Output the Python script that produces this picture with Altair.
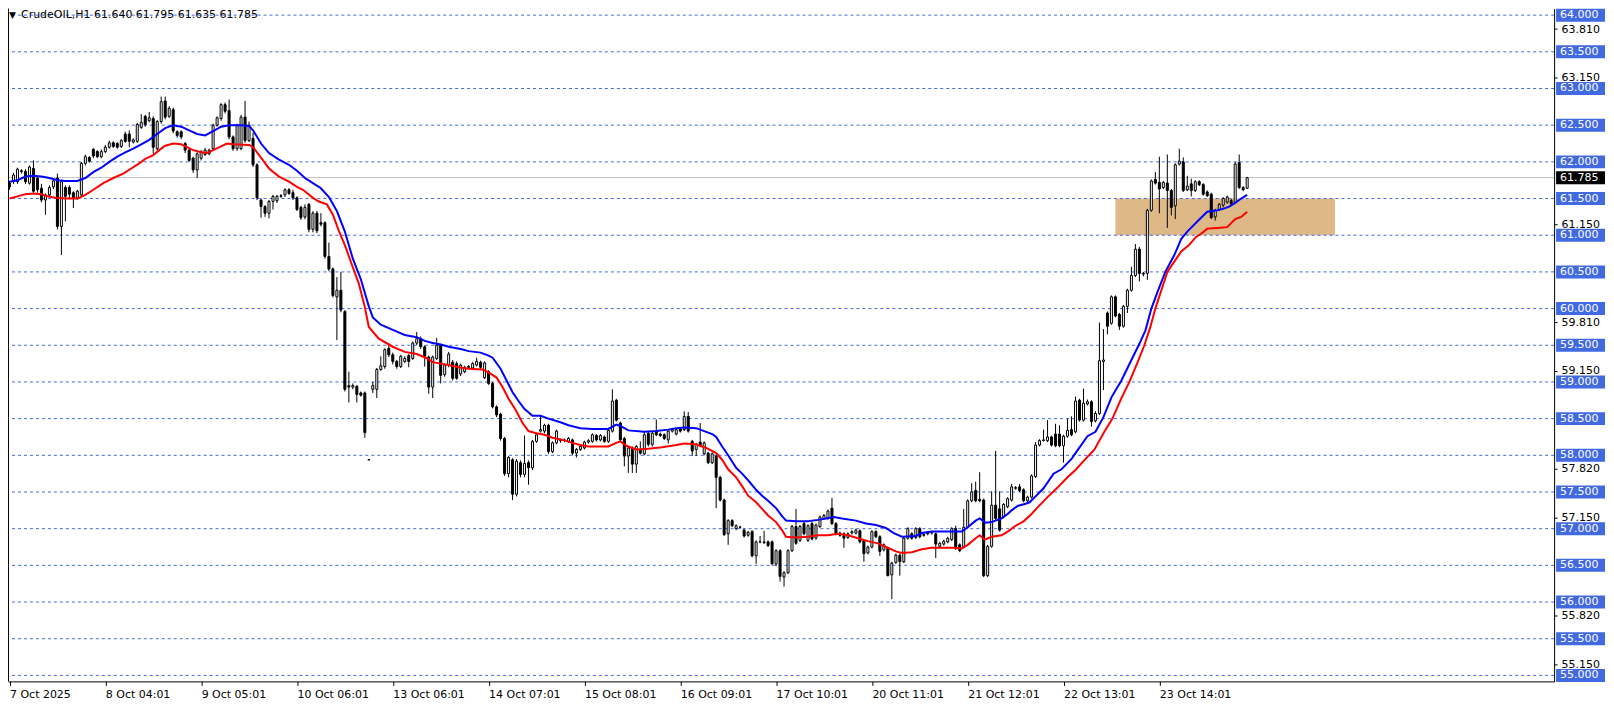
import altair as alt
import pandas as pd

# ---------------- data (H1 candles, bar index 0..310) ----------------
opens = [61.71, 61.73, 61.73, 61.88, 61.87, 61.71, 61.91, 61.78, 61.64, 61.48,
         61.55, 61.66, 61.78, 61.12, 61.65, 61.65, 61.58, 61.51, 61.55, 61.98,
         62.06, 62.17, 62.14, 62.07, 62.14, 62.20, 62.26, 62.25, 62.21, 62.38,
         62.38, 62.27, 62.28, 62.47, 62.62, 62.56, 62.59, 62.18, 62.55, 62.83,
         62.62, 62.71, 62.41, 62.41, 62.25, 62.16, 62.05, 61.89, 62.05, 62.10,
         62.11, 62.18, 62.50, 62.59, 62.78, 62.70, 62.34, 62.18, 62.18, 62.61,
         62.29, 62.32, 61.96, 61.48, 61.39, 61.30, 61.46, 61.47, 61.53, 61.55,
         61.62, 61.58, 61.51, 61.38, 61.25, 61.42, 61.08, 61.30, 61.17, 61.17,
         60.71, 60.54, 60.16, 60.25, 59.96, 58.95, 58.93, 58.94, 58.85, 58.85,
         57.94, 58.90, 58.90, 59.17, 59.21, 59.46, 59.37, 59.28, 59.21, 59.28,
         59.36, 59.32, 59.53, 59.59, 59.48, 59.34, 58.93, 59.32, 59.50, 59.10,
         59.23, 59.27, 59.25, 59.11, 59.14, 59.21, 59.19, 59.23, 59.27, 59.06,
         59.14, 58.98, 58.66, 58.56, 58.23, 57.75, 57.94, 57.47, 57.90, 57.74,
         57.90, 57.83, 58.19, 58.33, 58.33, 58.41, 58.05, 58.17, 58.20, 58.21,
         58.19, 58.21, 58.03, 58.08, 58.10, 58.18, 58.19, 58.27, 58.21, 58.25,
         58.19, 58.33, 58.75, 58.44, 58.23, 57.99, 58.10, 57.88, 58.08, 58.02,
         58.30, 58.15, 58.33, 58.29, 58.28, 58.21, 58.33, 58.29, 58.36, 58.35,
         58.53, 58.19, 58.08, 58.18, 58.02, 58.03, 57.90, 57.99, 57.70, 57.39,
         56.93, 57.11, 57.00, 57.02, 56.98, 56.91, 56.96, 56.63, 56.82, 56.81,
         56.82, 56.82, 56.52, 56.70, 56.34, 56.40, 56.70, 57.03, 56.84, 57.07,
         56.84, 57.07, 56.87, 57.03, 57.14, 57.14, 57.28, 57.07, 56.94, 56.93,
         56.88, 56.94, 56.94, 56.97, 56.84, 56.67, 56.75, 56.96, 56.89, 56.71,
         56.73, 56.37, 56.54, 56.64, 56.55, 56.87, 56.93, 56.88, 57.00, 56.92,
         56.93, 56.94, 56.93, 56.76, 56.79, 56.82, 56.85, 57.00, 56.78, 56.75,
         57.02, 57.38, 57.52, 57.40, 57.39, 56.36, 56.76, 57.32, 57.27, 57.16,
         57.30, 57.39, 57.55, 57.57, 57.53, 57.38, 57.43, 57.71, 58.14, 58.20,
         58.20, 58.25, 58.29, 58.29, 58.13, 58.26, 58.35, 58.32, 58.75, 58.48,
         58.70, 58.73, 58.47, 58.57, 59.28, 59.94, 59.80, 60.16, 59.92, 59.76,
         60.03, 60.25, 60.45, 60.81, 60.48, 60.48, 61.34, 61.76, 61.72, 61.65,
         61.71, 61.61, 61.40, 61.97, 62.00, 61.62, 61.70, 61.61, 61.73, 61.69,
         61.59, 61.56, 61.25, 61.35, 61.41, 61.45, 61.47, 61.45, 61.99, 61.65,
         61.640]
highs = [61.74, 61.85, 61.92, 61.90, 61.90, 61.95, 62.02, 61.80, 61.70, 61.57,
         61.68, 61.77, 61.84, 61.76, 61.68, 61.68, 61.60, 61.62, 62.00, 62.10,
         62.08, 62.19, 62.16, 62.17, 62.23, 62.29, 62.28, 62.27, 62.31, 62.41,
         62.43, 62.32, 62.53, 62.65, 62.64, 62.68, 62.62, 62.57, 62.89, 62.89,
         62.76, 62.74, 62.43, 62.43, 62.27, 62.18, 62.07, 62.13, 62.16, 62.19,
         62.18, 62.52, 62.62, 62.80, 62.81, 62.85, 62.36, 62.52, 62.64, 62.83,
         62.55, 62.40, 61.98, 61.50, 61.41, 61.48, 61.55, 61.55, 61.56, 61.64,
         61.64, 61.62, 61.53, 61.40, 61.42, 61.44, 61.33, 61.33, 61.30, 61.19,
         60.90, 60.56, 60.43, 60.50, 59.98, 59.14, 58.98, 58.96, 58.87, 58.87,
         57.95, 59.00, 59.19, 59.35, 59.46, 59.53, 59.40, 59.30, 59.37, 59.35,
         59.38, 59.55, 59.68, 59.62, 59.50, 59.36, 59.36, 59.60, 59.52, 59.25,
         59.41, 59.30, 59.28, 59.25, 59.22, 59.23, 59.27, 59.33, 59.29, 59.28,
         59.16, 59.00, 58.68, 58.58, 58.25, 57.99, 57.96, 57.95, 57.93, 58.27,
         57.93, 58.21, 58.30, 58.53, 58.43, 58.43, 58.19, 58.35, 58.23, 58.23,
         58.25, 58.23, 58.10, 58.14, 58.20, 58.22, 58.30, 58.29, 58.29, 58.27,
         58.36, 58.90, 58.77, 58.46, 58.25, 58.12, 58.12, 58.14, 58.19, 58.33,
         58.32, 58.32, 58.49, 58.31, 58.30, 58.35, 58.37, 58.37, 58.38, 58.60,
         58.59, 58.21, 58.17, 58.44, 58.19, 58.05, 58.04, 58.01, 57.72, 57.41,
         57.13, 57.13, 57.06, 57.04, 57.00, 56.97, 56.98, 56.84, 56.90, 56.97,
         56.84, 56.84, 56.72, 56.72, 56.42, 56.72, 57.05, 57.27, 57.05, 57.09,
         57.06, 57.09, 57.07, 57.18, 57.20, 57.26, 57.42, 57.09, 56.96, 56.95,
         56.95, 56.98, 57.00, 56.99, 56.86, 56.77, 56.98, 56.98, 56.91, 56.80,
         56.75, 56.55, 56.66, 56.66, 56.89, 57.02, 56.95, 57.02, 57.02, 56.94,
         56.96, 56.97, 56.95, 56.82, 56.85, 56.89, 57.02, 57.04, 56.80, 57.27,
         57.40, 57.62, 57.64, 57.77, 57.41, 56.78, 57.51, 58.06, 57.51, 57.35,
         57.43, 57.61, 57.58, 57.61, 57.55, 57.45, 57.74, 58.18, 58.22, 58.35,
         58.48, 58.27, 58.43, 58.41, 58.28, 58.50, 58.53, 58.80, 58.77, 58.91,
         58.76, 58.75, 58.60, 59.81, 59.72, 59.96, 60.18, 60.18, 59.94, 60.05,
         60.27, 60.57, 60.88, 60.84, 60.50, 61.36, 61.76, 61.86, 62.07, 61.74,
         62.10, 61.63, 61.98, 62.18, 62.06, 61.81, 61.77, 61.75, 61.75, 61.71,
         61.61, 61.58, 61.36, 61.44, 61.52, 61.54, 61.50, 62.00, 62.10, 61.67,
         61.795]
lows = [61.62, 61.70, 61.70, 61.84, 61.70, 61.69, 61.58, 61.58, 61.45, 61.28,
        61.52, 61.63, 61.08, 60.73, 61.19, 61.50, 61.37, 61.48, 61.53, 61.95,
        61.99, 62.05, 62.05, 62.05, 62.12, 62.18, 62.19, 62.18, 62.19, 62.26,
        62.20, 62.25, 62.26, 62.45, 62.48, 62.54, 62.11, 62.15, 62.52, 62.58,
        62.60, 62.39, 62.33, 62.31, 62.12, 62.00, 61.85, 61.78, 62.02, 62.08,
        62.09, 62.16, 62.48, 62.56, 62.66, 62.31, 62.15, 62.15, 62.16, 62.26,
        62.27, 61.93, 61.48, 61.24, 61.25, 61.23, 61.35, 61.44, 61.51, 61.52,
        61.55, 61.48, 61.33, 61.21, 61.22, 61.04, 61.04, 61.03, 61.12, 60.68,
        60.51, 60.15, 59.57, 59.95, 58.87, 58.72, 58.90, 58.72, 58.80, 58.24,
        57.93, 58.85, 58.78, 59.15, 59.18, 59.34, 59.24, 59.18, 59.19, 59.26,
        59.20, 59.30, 59.50, 59.45, 59.21, 58.84, 58.78, 59.30, 58.98, 59.07,
        59.20, 59.02, 59.03, 59.08, 59.12, 59.18, 59.17, 59.21, 59.18, 59.04,
        58.96, 58.64, 58.52, 58.20, 57.72, 57.70, 57.39, 57.44, 57.70, 57.70,
        57.60, 57.80, 58.17, 58.31, 58.30, 58.02, 58.03, 58.15, 58.17, 58.18,
        58.17, 58.00, 57.97, 58.06, 58.08, 58.16, 58.17, 58.19, 58.19, 58.17,
        58.17, 58.31, 58.46, 58.19, 57.85, 57.76, 57.76, 57.76, 58.01, 58.00,
        58.12, 58.12, 58.26, 58.25, 58.21, 58.16, 58.31, 58.27, 58.31, 58.33,
        58.31, 57.99, 57.99, 58.11, 58.00, 57.88, 57.88, 57.28, 57.37, 56.90,
        56.78, 57.02, 56.98, 57.00, 56.88, 56.89, 56.61, 56.52, 56.80, 56.79,
        56.75, 56.50, 56.49, 56.28, 56.21, 56.38, 56.68, 56.78, 56.82, 56.91,
        56.82, 56.84, 56.85, 57.01, 57.12, 57.12, 57.05, 56.91, 56.89, 56.74,
        56.86, 56.92, 56.92, 56.80, 56.55, 56.65, 56.73, 56.87, 56.63, 56.69,
        56.35, 56.04, 56.52, 56.36, 56.53, 56.85, 56.85, 56.86, 56.87, 56.89,
        56.91, 56.92, 56.60, 56.74, 56.77, 56.80, 56.83, 56.71, 56.68, 56.73,
        57.00, 57.36, 57.36, 57.36, 56.34, 56.34, 56.74, 57.12, 56.96, 57.14,
        57.28, 57.37, 57.53, 57.50, 57.36, 57.36, 57.41, 57.69, 58.12, 58.19,
        58.18, 58.12, 58.11, 58.11, 57.90, 58.24, 58.26, 58.30, 58.46, 58.46,
        58.68, 58.39, 58.45, 58.55, 58.89, 59.65, 59.78, 59.88, 59.71, 59.74,
        59.94, 60.23, 60.43, 60.37, 60.44, 60.39, 61.32, 61.69, 61.30, 61.63,
        61.10, 61.27, 61.22, 61.95, 61.59, 61.60, 61.53, 61.59, 61.67, 61.54,
        61.52, 61.22, 61.20, 61.33, 61.38, 61.43, 61.41, 61.43, 61.63, 61.60,
        61.635]
closes = [61.66, 61.82, 61.90, 61.87, 61.73, 61.93, 61.60, 61.62, 61.48, 61.55,
          61.65, 61.74, 61.12, 61.73, 61.53, 61.56, 61.51, 61.60, 61.98, 62.07,
          62.01, 62.08, 62.07, 62.14, 62.20, 62.26, 62.21, 62.20, 62.29, 62.28,
          62.28, 62.30, 62.51, 62.54, 62.51, 62.60, 62.20, 62.55, 62.82, 62.61,
          62.73, 62.42, 62.36, 62.34, 62.16, 62.02, 61.89, 62.11, 62.14, 62.16,
          62.16, 62.50, 62.60, 62.78, 62.69, 62.34, 62.18, 62.50, 62.61, 62.29,
          62.50, 61.96, 61.51, 61.39, 61.30, 61.46, 61.53, 61.53, 61.54, 61.62,
          61.57, 61.51, 61.35, 61.24, 61.38, 61.08, 61.30, 61.06, 61.15, 60.71,
          60.54, 60.18, 60.25, 59.98, 58.90, 58.93, 58.95, 58.83, 58.82, 58.31,
          57.94, 58.95, 59.17, 59.22, 59.44, 59.37, 59.28, 59.21, 59.35, 59.32,
          59.28, 59.53, 59.59, 59.48, 59.35, 58.93, 59.34, 59.50, 59.09, 59.23,
          59.38, 59.05, 59.05, 59.23, 59.20, 59.20, 59.25, 59.28, 59.20, 59.26,
          58.98, 58.66, 58.55, 58.23, 57.75, 57.97, 57.47, 57.92, 57.74, 57.89,
          57.83, 58.19, 58.28, 58.35, 58.41, 58.05, 58.17, 58.33, 58.21, 58.20,
          58.23, 58.03, 58.08, 58.12, 58.18, 58.20, 58.28, 58.21, 58.27, 58.19,
          58.34, 58.74, 58.48, 58.21, 57.99, 58.10, 57.88, 58.12, 58.03, 58.28,
          58.15, 58.30, 58.28, 58.27, 58.23, 58.33, 58.35, 58.35, 58.33, 58.53,
          58.33, 58.06, 58.15, 58.13, 58.17, 57.90, 58.02, 57.70, 57.39, 56.92,
          57.11, 57.04, 57.04, 57.02, 56.90, 56.95, 56.63, 56.82, 56.82, 56.82,
          56.77, 56.52, 56.70, 56.35, 56.40, 56.70, 57.03, 56.80, 57.03, 56.93,
          57.04, 56.86, 57.05, 57.16, 57.18, 57.24, 57.07, 56.93, 56.91, 56.87,
          56.93, 56.96, 56.98, 56.82, 56.66, 56.75, 56.96, 56.89, 56.69, 56.78,
          56.36, 56.53, 56.64, 56.55, 56.87, 57.00, 56.87, 57.00, 56.89, 56.91,
          56.94, 56.95, 56.79, 56.80, 56.83, 56.87, 57.00, 56.73, 56.70, 57.02,
          57.38, 57.50, 57.38, 57.38, 56.36, 56.76, 57.32, 57.14, 56.98, 57.33,
          57.41, 57.57, 57.56, 57.52, 57.38, 57.43, 57.72, 58.14, 58.20, 58.21,
          58.25, 58.14, 58.13, 58.13, 58.26, 58.34, 58.28, 58.74, 58.48, 58.71,
          58.73, 58.46, 58.57, 59.29, 59.30, 59.76, 60.16, 59.90, 59.76, 60.03,
          60.25, 60.45, 60.81, 60.48, 60.47, 61.34, 61.74, 61.71, 61.63, 61.72,
          61.61, 61.38, 61.96, 62.01, 61.61, 61.67, 61.61, 61.73, 61.69, 61.56,
          61.54, 61.24, 61.34, 61.42, 61.50, 61.52, 61.43, 61.97, 61.65, 61.62,
          61.785]

# moving-average lines (blue upper, red lower): (bar index, price)
blue_ma_points = [
    (0, 61.73), (2, 61.75), (4, 61.80), (6, 61.81), (8, 61.80), (10, 61.78), (12, 61.75),
    (14, 61.74), (17, 61.74), (19, 61.78), (21, 61.86), (23, 61.92), (25, 62.00), (27, 62.07),
    (29, 62.13), (31, 62.18), (33, 62.24), (35, 62.30), (37, 62.38), (39, 62.46), (41, 62.50),
    (43, 62.48), (45, 62.43), (47, 62.38), (49, 62.36), (51, 62.42), (53, 62.48), (55, 62.50),
    (58, 62.50), (60, 62.49), (61, 62.43), (63, 62.25), (65, 62.12), (67.5, 62.03), (70, 61.96),
    (72, 61.88), (74, 61.78), (76, 61.71), (78, 61.64), (80, 61.52), (82, 61.33), (84, 61.05),
    (86, 60.68), (88, 60.40), (90, 60.03), (91, 59.88), (93, 59.78), (96, 59.71), (99, 59.64),
    (102, 59.61), (104, 59.56), (106, 59.53), (108, 59.51), (110, 59.48), (113, 59.45),
    (115, 59.42), (118, 59.40), (120, 59.36), (121, 59.33), (123, 59.18), (124.5, 59.02),
    (126, 58.86), (127.5, 58.74), (129, 58.63), (131, 58.54), (133, 58.54), (135, 58.50),
    (138, 58.45), (140, 58.41), (143, 58.37), (146, 58.36), (150, 58.36), (152, 58.42),
    (153, 58.40), (155, 58.34), (159, 58.32), (162, 58.33), (165, 58.35), (167, 58.37),
    (169, 58.38), (172, 58.37), (174, 58.33), (176, 58.29), (177, 58.25), (178.5, 58.12),
    (180, 58.00), (182, 57.83), (183.5, 57.75), (185, 57.66), (187, 57.53), (188.5, 57.45),
    (190, 57.38), (192, 57.28), (193.5, 57.17), (194.5, 57.11), (197, 57.10), (200, 57.10),
    (202.5, 57.12), (204.5, 57.14), (206.5, 57.16), (208.5, 57.14), (212, 57.11), (214.5, 57.07),
    (217, 57.05), (219.5, 57.01), (221.5, 56.94), (223.5, 56.89), (227, 56.90), (228.5, 56.94),
    (231, 56.96), (236, 56.96), (238.5, 56.96), (240, 57.02), (242, 57.11), (243, 57.14),
    (244.5, 57.08), (246, 57.09), (248.5, 57.14), (250, 57.20), (251, 57.25), (252.5, 57.31),
    (254.5, 57.34), (255.5, 57.36), (257, 57.44), (259, 57.55), (261.5, 57.75), (263.5, 57.81),
    (266, 57.95), (267, 58.03), (270, 58.26), (272, 58.32), (274, 58.52), (276, 58.79),
    (278.5, 59.02), (281, 59.30), (283, 59.52), (284.5, 59.70), (286, 60.00), (287.5, 60.22),
    (289.5, 60.50), (291.75, 60.73), (293.5, 60.95), (295, 61.05), (297.75, 61.20),
    (300, 61.32), (302.5, 61.34), (304, 61.36), (305.5, 61.39), (307, 61.44), (308.5, 61.50),
    (310, 61.55),
]
red_ma_points = [
    (0, 61.50), (2, 61.53), (4, 61.56), (6, 61.57), (8, 61.56), (9.5, 61.53), (11.5, 61.51),
    (14, 61.50), (17, 61.50), (19, 61.55), (21, 61.62), (23.5, 61.71), (26, 61.78), (28.5, 61.84),
    (30.5, 61.91), (32.5, 61.98), (34, 62.04), (36, 62.09), (37.5, 62.16), (39, 62.22), (41, 62.25),
    (43, 62.24), (44.5, 62.20), (46, 62.16), (48, 62.13), (49.5, 62.12), (51, 62.16), (53, 62.21),
    (54.5, 62.25), (56, 62.24), (60, 62.23), (61, 62.20), (63.5, 62.02), (65, 61.91), (67.5, 61.80),
    (70, 61.73), (72, 61.66), (73.5, 61.62), (76, 61.51), (77.5, 61.46), (79.5, 61.42),
    (81, 61.28), (82.5, 61.06), (84.25, 60.83), (86, 60.56), (87.5, 60.34), (89, 60.02),
    (90, 59.75), (92.5, 59.59), (96, 59.48), (99, 59.41), (102, 59.38), (104.25, 59.33),
    (106, 59.27), (108, 59.25), (110, 59.23), (112.5, 59.20), (115, 59.18), (118.5, 59.17),
    (120, 59.13), (122, 59.06), (123.5, 58.93), (125, 58.77), (126.75, 58.62), (128.5, 58.44),
    (130, 58.33), (132, 58.30), (134, 58.28), (136, 58.24), (138.5, 58.21), (141, 58.17),
    (143, 58.14), (145, 58.12), (150, 58.12), (152, 58.17), (153, 58.19), (154.5, 58.13),
    (157, 58.08), (160, 58.09), (163.5, 58.11), (167, 58.14), (169, 58.16), (172, 58.15),
    (174.5, 58.10), (177, 58.03), (178.5, 57.94), (180, 57.81), (182, 57.70), (183.5, 57.58),
    (185, 57.45), (187, 57.36), (188.5, 57.27), (190, 57.18), (192, 57.09), (193.5, 56.98),
    (194.5, 56.89), (197, 56.88), (200, 56.89), (202.5, 56.91), (205, 56.91), (207.5, 56.93),
    (210, 56.91), (212.5, 56.87), (215, 56.83), (217.5, 56.80), (220, 56.74), (222, 56.69),
    (223.5, 56.67), (226, 56.68), (228.5, 56.72), (231, 56.74), (236.5, 56.74), (238.5, 56.73),
    (240, 56.78), (242, 56.87), (243, 56.91), (244.25, 56.85), (246, 56.89), (248.5, 56.91),
    (250, 56.96), (252, 57.04), (254, 57.10), (256, 57.20), (257.5, 57.29), (260, 57.43),
    (262.5, 57.56), (265, 57.70), (267, 57.80), (269, 57.92), (271.75, 58.08), (274, 58.30),
    (276.25, 58.50), (278.5, 58.78), (280.5, 59.00), (282.5, 59.26), (284.25, 59.50),
    (285.75, 59.75), (287, 60.00), (288.5, 60.25), (290, 60.50), (291.75, 60.64),
    (293.5, 60.78), (295.5, 60.87), (297.25, 60.98), (298.5, 61.02), (300, 61.09),
    (302.5, 61.10), (305, 61.11), (307, 61.22), (308.5, 61.25), (310, 61.32),
]

x_label_bars = [0, 24, 48, 72, 96, 120, 144, 168, 192, 216, 240, 264, 288]
x_labels = ["7 Oct 2025", "8 Oct 04:01", "9 Oct 05:01", "10 Oct 06:01", "13 Oct 06:01",
            "14 Oct 07:01", "15 Oct 08:01", "16 Oct 09:01", "17 Oct 10:01", "20 Oct 11:01",
            "21 Oct 12:01", "22 Oct 13:01", "23 Oct 14:01"]
price_levels = [64.0, 63.5, 63.0, 62.5, 62.0, 61.5, 61.0, 60.5, 60.0, 59.5,
                59.0, 58.5, 58.0, 57.5, 57.0, 56.5, 56.0, 55.5, 55.0]
axis_prices = [63.81, 63.15, 61.15, 59.81, 59.15, 57.82, 57.15, 55.82, 55.15]
current_price = [61.785]
zone_bars = [277, 332]
zone_prices = [61.0, 61.5]
title_text = "CrudeOIL,H1  61.640 61.795 61.635 61.785"

# ---------------- layout ----------------
W, H = 1549, 674
PX = 73.5                           # pixels per price unit
Y_MAX = 64 + 6.5 / PX               # 64.000 level sits 6.5 px below the plot top
Y_MIN = Y_MAX - H / PX
BAR_PX = 4.0
X_MIN = -0.375                      # bar centres land on pixel centres
X_MAX = X_MIN + W / BAR_PX
BOX_HALF = 6.5 / PX
FONT = "DejaVu Sans"

xs = alt.Scale(domain=[X_MIN, X_MAX], nice=False, zero=False)
ys = alt.Scale(domain=[Y_MIN, Y_MAX], nice=False, zero=False)

candles = pd.DataFrame({"i": list(range(len(opens))), "open": opens, "high": highs,
                        "low": lows, "close": closes})
blue_df = pd.DataFrame(blue_ma_points, columns=["i", "v"])
red_df = pd.DataFrame(red_ma_points, columns=["i", "v"])
levels_df = pd.DataFrame({"price": price_levels})
cur_df = pd.DataFrame({"price": current_price})
zone_df = pd.DataFrame({"x1": [zone_bars[0]], "x2": [zone_bars[1]],
                        "y1": [zone_prices[0]], "y2": [zone_prices[1]]})
title_df = pd.DataFrame({"t": [title_text]})

label_js = "[" + ",".join("'" + s + "'" for s in x_labels) + "]"
x_axis = alt.Axis(values=x_label_bars, labelExpr=label_js + "[round(datum.value/24)]",
                  orient="bottom", grid=False, domain=True, domainColor="black",
                  domainWidth=1, ticks=True, tickColor="black", tickSize=4,
                  labelAlign="left", labelPadding=3, labelFont=FONT, labelFontSize=11,
                  labelColor="black", labelOverlap=False, labelFlush=False, title=None)
y_axis = alt.Axis(values=axis_prices, format=".3f", orient="right", grid=False,
                  domain=True, domainColor="black", domainWidth=1, ticks=True,
                  tickColor="black", tickSize=3, labelPadding=4, labelFont=FONT,
                  labelFontSize=11, labelColor="black", labelOverlap=False,
                  labelFlush=False, title=None)


def X(field):
    return alt.X(field, scale=xs, axis=x_axis)


def Y(field):
    return alt.Y(field, scale=ys, axis=y_axis)


zone = alt.Chart(zone_df).mark_rect(color="#DEB887").encode(
    x=X("x1:Q"), x2="x2:Q", y=Y("y1:Q"), y2="y2:Q")

grid = alt.Chart(levels_df).mark_rule(color="#4169E1", strokeWidth=1, strokeDash=[3, 3]).encode(
    y=Y("price:Q"))

cur_line = alt.Chart(cur_df).mark_rule(color="#C0C0C0", strokeWidth=1).encode(
    y=Y("price:Q"))

left_border = alt.Chart(cur_df).mark_rule(color="black", strokeWidth=1).encode(
    x=alt.value(0.5), y=alt.value(0), y2=alt.value(H))

wicks = alt.Chart(candles).mark_rule(color="black", strokeWidth=1).encode(
    x=X("i:Q"), y=Y("low:Q"), y2="high:Q")

bodies = alt.Chart(candles).transform_calculate(
    xa="datum.i - 0.25", xb="datum.i + 0.25"
).mark_rect(stroke="black", strokeWidth=1).encode(
    x=X("xa:Q"), x2="xb:Q", y=Y("open:Q"), y2="close:Q",
    fill=alt.condition("datum.close > datum.open", alt.value("white"), alt.value("black")))

blue_line = alt.Chart(blue_df).mark_line(color="#0000FF", strokeWidth=2).encode(
    x=X("i:Q"), y=Y("v:Q"))
red_line = alt.Chart(red_df).mark_line(color="#FF0000", strokeWidth=2).encode(
    x=X("i:Q"), y=Y("v:Q"))

level_boxes = alt.Chart(levels_df).transform_calculate(
    top=f"datum.price + {BOX_HALF}", bot=f"datum.price - {BOX_HALF}"
).mark_rect(color="#4169E1").encode(
    x=alt.value(W + 2), x2=alt.value(W + 51), y=Y("top:Q"), y2="bot:Q")
level_text = alt.Chart(levels_df).mark_text(
    align="left", baseline="middle", color="white", font=FONT, fontSize=11
).encode(x=alt.value(W + 6), y=Y("price:Q"), text=alt.Text("price:Q", format=".3f"))

cur_box = alt.Chart(cur_df).transform_calculate(
    top=f"datum.price + {BOX_HALF}", bot=f"datum.price - {BOX_HALF}"
).mark_rect(color="black").encode(
    x=alt.value(W + 2), x2=alt.value(W + 51), y=Y("top:Q"), y2="bot:Q")
cur_text = alt.Chart(cur_df).mark_text(
    align="left", baseline="middle", color="white", font=FONT, fontSize=11
).encode(x=alt.value(W + 6), y=Y("price:Q"), text=alt.Text("price:Q", format=".3f"))

tri = alt.Chart(title_df).mark_text(
    text="▼", align="left", baseline="middle", color="black", font=FONT, fontSize=9
).encode(x=alt.value(1), y=alt.value(6.5))
title = alt.Chart(title_df).mark_text(
    align="left", baseline="middle", color="black", font=FONT, fontSize=11
).encode(x=alt.value(13), y=alt.value(6.5), text="t:N")

chart = alt.layer(
    zone, grid, cur_line, left_border, wicks, bodies, blue_line, red_line,
    level_boxes, level_text, cur_box, cur_text, tri, title
).properties(
    width=W, height=H, background="white",
    autosize=alt.AutoSizeParams(type="none"),
    padding={"left": 0, "top": 0, "right": 52, "bottom": 22},
).configure_view(stroke=None)

chart.save("out.html", embed_options={"renderer": "svg", "actions": False})
